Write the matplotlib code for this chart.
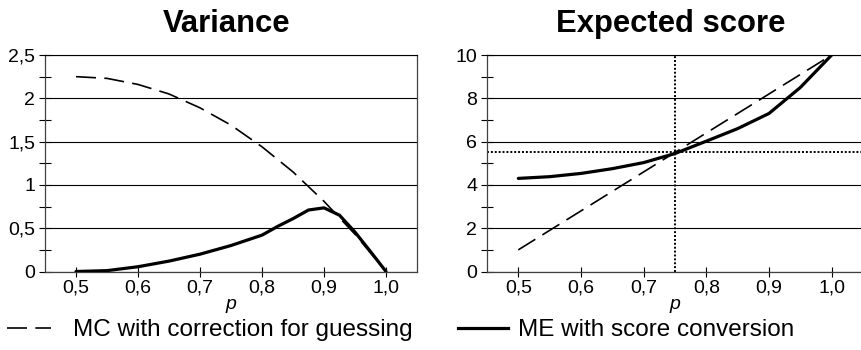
import matplotlib
matplotlib.use("Agg")
import matplotlib.pyplot as plt
from matplotlib.lines import Line2D

plt.rcParams["font.family"] = ["Liberation Sans", "DejaVu Sans"]

# Proportion of correct answers
p_values = [0.5, 0.55, 0.6, 0.65, 0.7, 0.75, 0.8, 0.85, 0.9, 0.95, 1.0]
p_fine = [0.5, 0.55, 0.6, 0.65, 0.7, 0.75, 0.8, 0.825, 0.85, 0.875, 0.9,
          0.925, 0.95, 0.975, 1.0]

# Variance
var_mc = [2.25, 2.23, 2.16, 2.05, 1.89, 1.69, 1.44, 1.15, 0.81, 0.43, 0.0]
var_me = [0.0, 0.01, 0.055, 0.12, 0.20, 0.30, 0.42, 0.52, 0.61, 0.71, 0.735,
          0.65, 0.455, 0.23, 0.0]

# Expected score
score_mc = [1.0, 1.9, 2.8, 3.7, 4.6, 5.5, 6.4, 7.3, 8.2, 9.1, 10.0]
score_me = [4.3, 4.38, 4.53, 4.75, 5.03, 5.45, 6.02, 6.6, 7.3, 8.5, 10.0]
cross_p = 0.75
cross_score = 5.5

x_ticks = [0.5, 0.6, 0.7, 0.8, 0.9, 1.0]
x_tick_labels = ["0,5", "0,6", "0,7", "0,8", "0,9", "1,0"]
var_ticks = [0, 0.5, 1, 1.5, 2, 2.5]
var_tick_labels = ["0", "0,5", "1", "1,5", "2", "2,5"]
var_minor = [0.25, 0.75, 1.25, 1.75, 2.25]
score_ticks = [0, 2, 4, 6, 8, 10]
score_tick_labels = ["0", "2", "4", "6", "8", "10"]
score_minor = [1, 3, 5, 7, 9]

titles = ["Variance", "Expected score"]
legend_labels = ["MC with correction for guessing", "ME with score conversion"]

W, H = 861, 350
fig = plt.figure(figsize=(W / 100, H / 100), dpi=100)
fig.patch.set_facecolor("white")

bottom = (H - 271.5) / H
height = 216.5 / H
ax1 = fig.add_axes([45 / W, bottom, 372 / W, height])
ax2 = fig.add_axes([487 / W, bottom, 376 / W, height])

DASH = (0, (12, 5))
DOT = (0, (1, 1))
spine_col = "#404040"

def style_axes(ax, yticks, ylabels, yminor, ylim):
    ax.set_xlim(0.45, 1.05)
    ax.set_ylim(*ylim)
    ax.set_xticks(x_ticks)
    ax.set_xticklabels(x_tick_labels)
    ax.set_yticks(yticks)
    ax.set_yticklabels(ylabels)
    ax.set_yticks(yminor, minor=True)
    ax.grid(axis="y", which="major", color="black", linewidth=0.8, zorder=1)
    ax.set_axisbelow(True)
    for side in ["left", "bottom", "right"]:
        ax.spines[side].set_color(spine_col)
        ax.spines[side].set_linewidth(0.9)
    ax.spines["top"].set_color("black")
    ax.spines["top"].set_linewidth(0.8)
    ax.tick_params(axis="y", which="major", direction="inout", length=8,
                   width=0.8, color="black", pad=3.0, labelsize=14)
    ax.tick_params(axis="y", which="minor", direction="inout", length=8,
                   width=0.8, color="black")
    ax.tick_params(axis="x", which="major", direction="inout", length=7,
                   width=0.8, color="black", pad=2.2, labelsize=14)
    ax.set_xlabel("p", style="italic", fontsize=14, labelpad=0)

# Left panel: variance
ax1.plot(p_values, var_mc, color="black", linewidth=1.2, linestyle=DASH, zorder=3)
ax1.plot(p_fine, var_me, color="black", linewidth=2.3, zorder=4,
         solid_joinstyle="round", solid_capstyle="round")
style_axes(ax1, var_ticks, var_tick_labels, var_minor, (0, 2.5))

# Right panel: expected score
ax2.axvline(cross_p, color="black", linewidth=1.4, linestyle=DOT, zorder=2)
ax2.axhline(cross_score, color="black", linewidth=1.4, linestyle=DOT, zorder=2)
ax2.plot(p_values, score_mc, color="black", linewidth=1.2, linestyle=DASH, zorder=3)
ax2.plot(p_values, score_me, color="black", linewidth=2.3, zorder=4,
         solid_joinstyle="round", solid_capstyle="round")
style_axes(ax2, score_ticks, score_tick_labels, score_minor, (0, 10))

# Panel titles
fig.text(227 / W, (H - 32) / H, titles[0], ha="center", va="baseline",
         fontsize=22.3, fontweight="bold")
fig.text(671 / W, (H - 32) / H, titles[1], ha="center", va="baseline",
         fontsize=22.3, fontweight="bold")

# Legend entries below the panels
h_mc = Line2D([], [], color="black", linewidth=1.2, linestyle=DASH)
h_me = Line2D([], [], color="black", linewidth=2.3)
fig.legend(handles=[h_mc], labels=[legend_labels[0]], loc="center left",
           bbox_to_anchor=(7 / W, 20 / H), frameon=False, fontsize=17.5,
           borderpad=0, borderaxespad=0, handlelength=1.8, handletextpad=0.9)
fig.legend(handles=[h_me], labels=[legend_labels[1]], loc="center left",
           bbox_to_anchor=(458 / W, 20 / H), frameon=False, fontsize=17.5,
           borderpad=0, borderaxespad=0, handlelength=2.05, handletextpad=0.4)

fig.savefig("out.png", dpi=100)
